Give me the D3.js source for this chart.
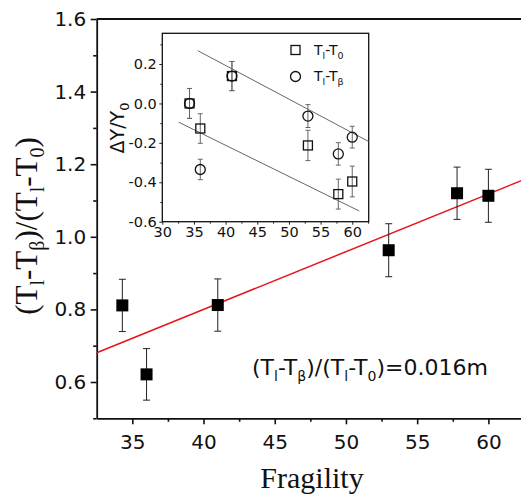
<!DOCTYPE html>
<html>
<head>
<meta charset="utf-8">
<script src="https://cdn.jsdelivr.net/npm/d3@7"></script>
<style>
  body { margin: 0; background: #fff; }
  .sans { font-family: "DejaVu Sans", sans-serif; }
  .serif { font-family: "Liberation Serif", "Times New Roman", serif; }
</style>
</head>
<body>
<div id="chart"></div>
<script>
// main panel: (Tl-Tb)/(Tl-T0) vs fragility
var fragility = [34.3, 36.0, 41.0, 53.0, 57.8, 60.0];
var ratio     = [0.811, 0.621, 0.812, 0.963, 1.12, 1.113];
var ratioErr  = [0.072, 0.071, 0.072, 0.073, 0.072, 0.073];
var ratioFit  = [0.164, 0.0159];            // intercept, slope

// inset: dY/Y0
var dyT0    = [0.0, -0.127, 0.139, -0.213, -0.46, -0.396];
var dyT0Err = [0.076, 0.075, 0.074, 0.077, 0.076, 0.078];
var dyTb    = [0.0, -0.335, 0.139, -0.064, -0.256, -0.171];
var dyTbErr = [0.076, 0.052, 0.074, 0.058, 0.057, 0.055];
var fitUpper = [0.876, -0.01708, 35.6, 62.6];   // intercept, slope, from, to
var fitLower = [0.4197, -0.0158, 32.6, 61.1];

var mainXTicks  = [35, 40, 45, 50, 55, 60];
var mainXMinor  = [37.5, 42.5, 47.5, 52.5, 57.5];
var mainYTicks  = [0.6, 0.8, 1.0, 1.2, 1.4, 1.6];
var mainYMinor  = [0.5, 0.7, 0.9, 1.1, 1.3, 1.5];
var insetXTicks = [30, 35, 40, 45, 50, 55, 60];
var insetXMinor = [32.5, 37.5, 42.5, 47.5, 52.5, 57.5, 62.5];
var insetYTicks = [-0.6, -0.4, -0.2, 0.0, 0.2];
var insetYMinor = [-0.5, -0.3, -0.1, 0.1, 0.3];

var W = 521, H = 496;

var svg = d3.select("#chart").append("svg")
    .attr("width", W)
    .attr("height", H);

// scales
var x = d3.scaleLinear().domain([32.5, 62.5]).range([96.7, 524]);
var y = d3.scaleLinear().domain([0.5, 1.6]).range([418.3, 19]);
var xi = d3.scaleLinear().domain([30, 62.6]).range([162.3, 368.7]);
var yi = d3.scaleLinear().domain([-0.6, 0.356]).range([221.7, 33.3]);

// text with subscripts: parts = [[text, isSub], ...]
function rich(sel, parts, subSize, shift) {
  var down = false;
  parts.forEach(function(p) {
    var t = sel.append("tspan").text(p[0]);
    if (p[1] && !down) { t.attr("font-size", subSize).attr("dy", shift); down = true; }
    else if (p[1]) { t.attr("font-size", subSize); }
    else if (down) { t.attr("dy", -shift); down = false; }
  });
  return sel;
}

// one decimal, plain hyphen for minus
var fmt = function(d) { return (Math.abs(d) < 1e-9 ? 0 : d).toFixed(1); };

// ---- main axes
var gx = svg.append("g")
    .attr("transform", "translate(0," + y(0.5) + ")")
    .call(d3.axisBottom(x).tickValues(mainXTicks).tickSize(6).tickPadding(11).tickSizeOuter(0));
gx.append("g").call(d3.axisBottom(x).tickValues(mainXMinor).tickSize(3.5).tickFormat("").tickSizeOuter(0))
  .select(".domain").remove();

var gy = svg.append("g")
    .attr("transform", "translate(" + x(32.5) + ",0)")
    .call(d3.axisLeft(y).tickValues(mainYTicks).tickSize(6).tickPadding(4.5).tickFormat(fmt).tickSizeOuter(0));
gy.append("g").call(d3.axisLeft(y).tickValues(mainYMinor).tickSize(3.5).tickFormat("").tickSizeOuter(0))
  .select(".domain").remove();

[gx, gy].forEach(function(g) {
  g.selectAll(".domain").attr("stroke", "#111").attr("stroke-width", 1.8);
  g.selectAll(".tick line").attr("stroke", "#111").attr("stroke-width", 1.6);
  g.selectAll("text").attr("class", "sans").attr("font-size", 20).attr("fill", "#111");
});

// top frame line
svg.append("line")
    .attr("x1", x(32.5)).attr("x2", W)
    .attr("y1", y(1.6)).attr("y2", y(1.6))
    .attr("stroke", "#111").attr("stroke-width", 1.8);

// fit line (red)
svg.append("clipPath").attr("id", "clipMain").append("rect")
    .attr("x", x(32.5)).attr("y", y(1.6)).attr("width", W).attr("height", y(0.5) - y(1.6));
svg.append("line")
    .attr("clip-path", "url(#clipMain)")
    .attr("x1", x(32.5)).attr("y1", y(ratioFit[0] + ratioFit[1] * 32.5))
    .attr("x2", x(62.5)).attr("y2", y(ratioFit[0] + ratioFit[1] * 62.5))
    .attr("stroke", "#e8141c").attr("stroke-width", 1.5);

// error bars + filled squares
var main = svg.append("g");
fragility.forEach(function(f, i) {
  var cx = x(f), lo = y(ratio[i] - ratioErr[i]), hi = y(ratio[i] + ratioErr[i]);
  main.append("line").attr("x1", cx).attr("x2", cx).attr("y1", lo).attr("y2", hi)
      .attr("stroke", "#222").attr("stroke-width", 1);
  [lo, hi].forEach(function(v) {
    main.append("line").attr("x1", cx - 3.5).attr("x2", cx + 3.5).attr("y1", v).attr("y2", v)
        .attr("stroke", "#222").attr("stroke-width", 1);
  });
  main.append("rect").attr("x", cx - 6).attr("y", y(ratio[i]) - 6)
      .attr("width", 12).attr("height", 12).attr("fill", "#000");
});

// equation
rich(svg.append("text").attr("class", "sans").attr("x", 252).attr("y", 374.5)
        .attr("font-size", 22).attr("fill", "#111"),
     [["(T"], ["l", 1], ["-T"], ["\u03b2", 1], [")/(T"], ["l", 1], ["-T"], ["0", 1], [")=0.016m"]], 14, 6);

// axis titles
svg.append("text").attr("class", "serif").attr("x", 312).attr("y", 488)
    .attr("text-anchor", "middle").attr("font-size", 30).attr("fill", "#111").text("Fragility");

rich(svg.append("text").attr("class", "serif")
        .attr("transform", "translate(37,226) rotate(-90)")
        .attr("text-anchor", "middle").attr("font-size", 31).attr("fill", "#111"),
     [["(T"], ["l", 1], ["-T"], ["\u03b2", 1], [")/(T"], ["l", 1], ["-T"], ["0", 1], [")"]], 20, 7);

// ---- inset
var inset = svg.append("g");
inset.append("rect")
    .attr("x", xi(30)).attr("y", yi(0.356))
    .attr("width", xi(62.6) - xi(30)).attr("height", yi(-0.6) - yi(0.356))
    .attr("fill", "#fff").attr("stroke", "#111").attr("stroke-width", 1.3);

var ix = inset.append("g")
    .attr("transform", "translate(0," + yi(-0.6) + ")")
    .call(d3.axisBottom(xi).tickValues(insetXTicks).tickSize(3).tickPadding(2.5).tickSizeOuter(0));
ix.append("g").call(d3.axisBottom(xi).tickValues(insetXMinor).tickSize(2).tickFormat("").tickSizeOuter(0))
  .select(".domain").remove();
var iy = inset.append("g")
    .attr("transform", "translate(" + xi(30) + ",0)")
    .call(d3.axisLeft(yi).tickValues(insetYTicks).tickSize(3).tickPadding(2.5).tickFormat(fmt).tickSizeOuter(0));
iy.append("g").call(d3.axisLeft(yi).tickValues(insetYMinor).tickSize(2).tickFormat("").tickSizeOuter(0))
  .select(".domain").remove();
[ix, iy].forEach(function(g) {
  g.selectAll(".domain").remove();
  g.selectAll(".tick line").attr("stroke", "#222").attr("stroke-width", 1);
  g.selectAll("text").attr("class", "sans").attr("font-size", 14.5).attr("fill", "#111");
});

rich(inset.append("text").attr("class", "sans")
        .attr("transform", "translate(124,128) rotate(-90)")
        .attr("text-anchor", "middle").attr("font-size", 19).attr("fill", "#111"),
     [["\u0394Y/Y"], ["0", 1]], 13, 5);

// inset fit lines
[fitUpper, fitLower].forEach(function(f) {
  inset.append("line")
      .attr("x1", xi(f[2])).attr("y1", yi(f[0] + f[1] * f[2]))
      .attr("x2", xi(f[3])).attr("y2", yi(f[0] + f[1] * f[3]))
      .attr("stroke", "#555").attr("stroke-width", 0.9);
});

// inset error bars and open markers
function errBars(vals, errs) {
  fragility.forEach(function(f, i) {
    var cx = xi(f), lo = yi(vals[i] - errs[i]), hi = yi(vals[i] + errs[i]);
    inset.append("line").attr("x1", cx).attr("x2", cx).attr("y1", lo).attr("y2", hi)
        .attr("stroke", "#666").attr("stroke-width", 1);
    [lo, hi].forEach(function(v) {
      inset.append("line").attr("x1", cx - 2.5).attr("x2", cx + 2.5).attr("y1", v).attr("y2", v)
          .attr("stroke", "#666").attr("stroke-width", 1);
    });
  });
}
errBars(dyT0, dyT0Err);
errBars(dyTb, dyTbErr);

fragility.forEach(function(f, i) {
  inset.append("rect").attr("x", xi(f) - 4.5).attr("y", yi(dyT0[i]) - 4.5)
      .attr("width", 9).attr("height", 9)
      .attr("fill", "none").attr("stroke", "#111").attr("stroke-width", 1.3);
});
fragility.forEach(function(f, i) {
  inset.append("circle").attr("cx", xi(f)).attr("cy", yi(dyTb[i])).attr("r", 5)
      .attr("fill", "none").attr("stroke", "#111").attr("stroke-width", 1.3);
});

// legend
inset.append("rect").attr("x", 291).attr("y", 45.5).attr("width", 9).attr("height", 9)
    .attr("fill", "none").attr("stroke", "#111").attr("stroke-width", 1.3);
inset.append("circle").attr("cx", 295.5).attr("cy", 76.5).attr("r", 5)
    .attr("fill", "none").attr("stroke", "#111").attr("stroke-width", 1.3);
rich(inset.append("text").attr("class", "sans").attr("x", 314).attr("y", 54.5)
        .attr("font-size", 14).attr("fill", "#111"),
     [["T"], ["l", 1], ["-T"], ["0", 1]], 9.5, 4);
rich(inset.append("text").attr("class", "sans").attr("x", 314).attr("y", 81)
        .attr("font-size", 14).attr("fill", "#111"),
     [["T"], ["l", 1], ["-T"], ["\u03b2", 1]], 9.5, 4);
</script>
</body>
</html>
